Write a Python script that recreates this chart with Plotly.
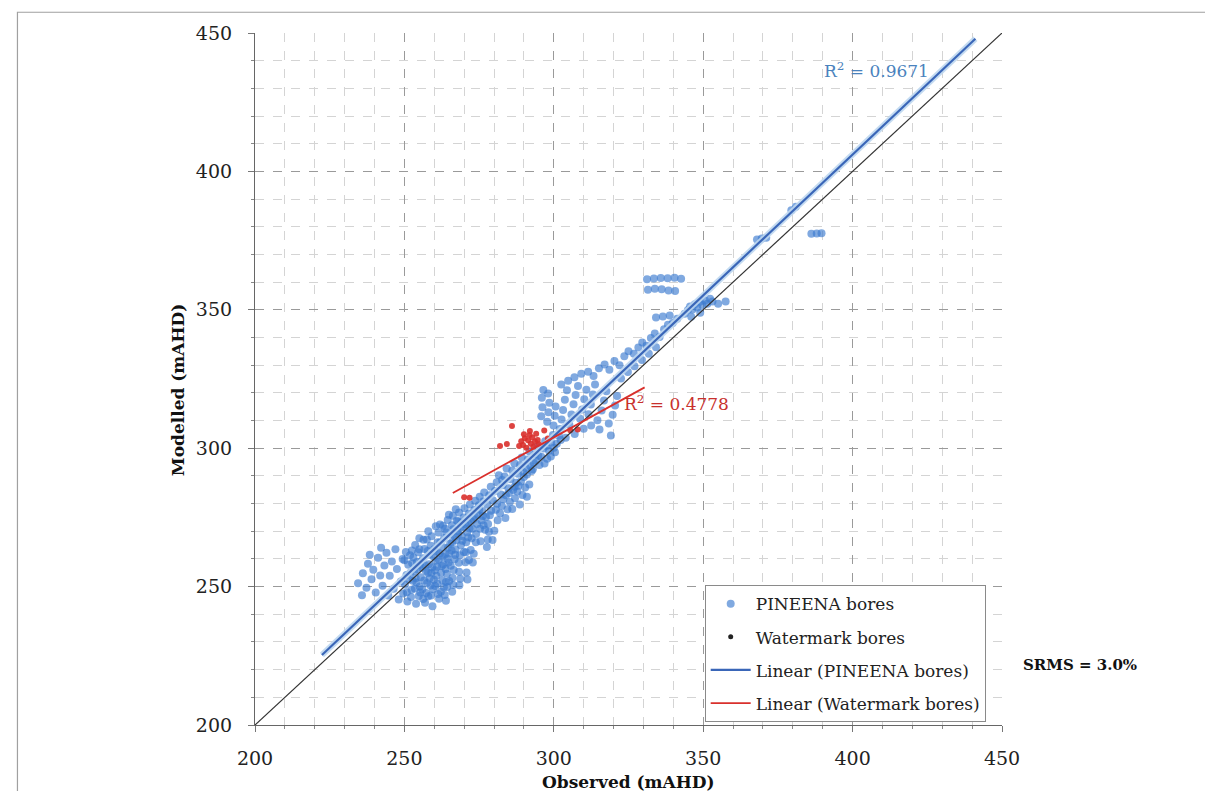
import plotly.graph_objects as go

# ---------------- data ----------------
pineena_points = [
    # diffuse points left of the main cluster
    (234.5,251.2),(236.1,254.8),(237.3,249.6),(237.8,258.3),(239.0,252.7),(239.6,256.1),(240.4,247.9),(241.2,260.4),
    (241.9,254.0),(242.7,250.3),(243.3,257.6),(244.0,262.2),(244.6,246.8),(245.1,253.9),(245.8,259.1),(246.4,249.2),
    (247.0,263.5),(247.5,256.4),(248.1,245.3),(248.8,251.8),(249.4,260.0),(235.8,246.9),(238.4,261.5),(242.2,264.0),
    # dense cluster
    (249.6,247.5),(250.2,250.8),(250.7,254.2),(251.3,257.9),(251.0,244.6),(251.9,261.3),(252.4,248.9),(252.8,252.1),(253.3,255.6),(253.6,265.0),
    (253.9,243.8),(254.2,258.9),(254.6,262.4),(254.8,246.6),(255.1,250.0),(255.5,253.4),(255.9,256.8),(256.2,260.2),(256.4,266.9),(256.7,263.6),
    (256.9,244.2),(257.3,247.7),(257.6,251.3),(257.9,254.9),(258.2,258.1),(258.5,261.5),(258.8,264.8),(259.1,268.2),(259.4,242.9),(259.6,249.0),
    (259.9,252.5),(260.2,255.9),(260.5,259.3),(260.8,262.7),(261.1,266.0),(261.4,269.5),(261.6,245.6),(261.9,272.4),(262.2,248.1),(262.5,257.4),
    (262.8,260.8),(263.0,264.2),(263.3,267.6),(263.6,270.9),(263.9,251.7),(264.2,254.6),(264.5,274.1),(264.8,258.7),(265.0,262.0),(265.3,265.5),
    (265.6,268.8),(265.9,272.2),(266.2,275.6),(266.5,256.0),(266.8,259.9),(267.1,263.4),(267.4,266.7),(267.7,270.1),(268.0,273.5),(268.3,276.8),
    (268.6,261.3),(268.9,264.9),(269.2,268.3),(269.5,271.6),(269.8,275.0),(270.1,278.3),(270.4,258.8),(270.7,266.0),(271.0,269.6),(271.3,273.0),
    (271.6,276.4),(271.9,279.7),(272.2,263.2),(272.5,267.5),(272.8,270.9),(273.1,274.3),(273.4,277.7),(273.7,281.0),(274.0,269.0),(274.3,272.6),
    (274.6,276.0),(274.9,279.4),(275.2,282.5),(275.5,266.4),(275.8,273.9),(276.1,277.3),(276.4,280.7),(276.7,284.0),(277.0,270.5),(277.3,275.1),
    (252.0,255.0),(254.0,251.5),(256.0,249.0),(258.0,246.5),(257.0,257.5),(259.0,255.0),(261.0,251.0),(263.0,258.0),(265.0,252.0),(262.0,266.0),
    (260.0,263.5),(264.0,269.5),(266.0,266.0),(268.0,269.0),(267.0,261.5),(269.0,273.0),(253.0,260.5),(255.0,263.5),(250.0,259.5),(257.5,267.0),
    (251.5,252.6),(253.5,249.3),(255.3,247.9),(256.6,252.2),(258.7,250.4),(260.7,253.9),(262.3,255.0),(261.5,259.8),(263.6,261.6),(264.6,264.0),
    (265.8,263.0),(266.9,268.0),(268.8,271.3),(270.3,272.5),(271.8,271.0),(273.5,275.2),(275.0,277.8),(276.2,275.5),(259.8,260.8),(257.8,262.9),
    (255.6,259.0),(254.4,256.2),(252.6,258.4),(262.9,272.0),(264.9,276.0),(267.2,277.9),(260.9,257.2),(258.9,246.8),(261.3,247.3),(264.3,249.9),
    (250.8,248.0),(252.2,246.2),(253.8,253.0),(255.0,257.8),(256.3,245.5),(257.2,255.6),(258.4,253.0),(259.3,257.0),(260.3,250.2),(261.8,262.0),
    (262.7,252.3),(263.8,256.4),(264.4,260.1),(265.5,257.5),(266.3,270.7),(267.5,273.8),(268.2,258.6),(269.4,266.6),(270.6,262.4),(271.4,267.8),
    (272.3,273.6),(273.9,266.0),(275.3,270.9),(276.5,272.2),(258.0,270.0),(255.0,267.5),(252.5,263.0),(250.5,262.5),(260.5,271.8),
    # streaks hanging below the line
    (263.2,249.8),(263.5,247.0),(263.9,244.9),(266.1,253.2),(266.4,250.6),(266.0,248.1),(268.3,255.4),(268.7,252.8),(268.4,250.5),(270.8,255.1),
    (271.1,252.6),(271.6,259.6),(273.2,261.9),(272.9,258.7),(269.9,262.5),
    (277.6,264.3),(277.9,267.0),(278.3,269.8),(278.0,272.6),(279.5,266.8),(280.1,270.2),(281.2,274.0),(282.0,276.5),(282.6,279.1),(283.8,274.8),
    (284.5,277.9),(285.3,280.6),(286.1,278.0),(287.0,281.9),(287.8,284.4),(288.6,279.7),(289.5,283.1),(290.4,285.8),(291.0,282.5),(291.8,286.9),
    # band along the line
    (277.8,279.6),(278.4,283.0),(278.9,286.1),(279.6,281.2),(280.3,284.5),(280.9,287.7),(281.6,290.2),(282.3,283.3),(282.9,286.6),(283.5,289.8),
    (284.2,292.7),(284.8,285.5),(285.5,288.8),(286.1,291.9),(286.8,294.6),(287.4,287.5),(288.0,290.8),(288.7,293.9),(289.3,296.6),(290.0,289.6),
    (290.6,292.9),(291.3,295.9),(291.9,298.8),(292.6,291.8),(293.2,294.7),(293.9,297.8),(294.5,300.6),(295.2,293.9),(295.8,296.9),(296.5,299.9),
    (297.1,302.5),(297.8,296.2),(298.4,299.1),(299.1,302.0),(299.7,304.8),(300.4,298.5),(301.0,301.6),(301.7,304.5),
    (279.0,277.4),(281.0,279.9),(283.1,281.6),(285.0,283.8),(286.9,286.1),(289.0,288.0),(291.0,290.5),(293.0,292.4),(294.8,297.3),(296.9,294.5),
    (299.0,297.0),(278.6,275.8),(280.6,277.8),(282.7,288.5),(284.0,283.0),(286.4,284.9),(288.2,286.4),(289.8,291.4),(292.1,293.6),(294.0,295.5),
    (297.5,300.8),(300.0,300.2),(302.3,303.0),
    # upper cluster
    (295.8,311.5),(296.2,314.8),(296.0,318.2),(296.5,321.0),(297.8,309.6),(298.2,313.0),(298.5,316.4),(298.1,319.8),(299.9,308.2),(300.3,311.7),
    (300.6,315.1),(302.0,306.9),(302.6,310.4),(303.1,313.8),(303.7,317.5),(304.4,320.9),(305.2,308.5),(305.9,312.2),(306.6,315.9),(307.3,319.2),
    (308.1,322.5),(308.8,310.6),(309.5,314.0),(310.2,317.7),(310.9,321.1),(311.6,312.3),(312.4,315.8),(313.1,319.4),(313.8,323.0),(314.6,310.1),
    (315.3,306.8),(316.0,313.6),(316.8,317.2),(317.6,320.6),(318.4,308.9),(319.1,304.6),(319.7,312.1),(320.5,315.4),(321.2,318.9),(304.0,303.8),
    (307.0,305.1),(310.0,307.0),(312.5,308.2),
    # streaks 300-342
    (302.5,323.0),(304.8,324.4),(306.9,325.6),(309.2,326.9),(311.5,327.6),(313.3,326.1),(315.1,328.9),(317.0,330.2),(318.6,328.3),(320.3,331.5),
    (322.0,330.0),(323.6,333.2),(325.0,335.0),(326.8,334.1),(328.3,336.4),(329.6,338.2),(331.0,337.0),(332.5,339.8),(333.8,341.4),(335.4,340.2),
    (336.9,343.0),(338.2,344.6),(339.8,345.2),(341.3,346.8),(322.5,325.2),(324.8,327.5),(327.0,329.6),(329.5,331.9),(331.8,334.1),(334.2,336.5),
    # cluster near 350
    (343.8,348.6),(344.9,349.9),(345.6,351.2),(346.4,350.1),(347.2,352.0),(348.0,350.8),(348.9,352.9),(349.7,351.7),(350.6,353.4),(351.4,352.2),
    (352.3,354.0),(353.1,353.0),(346.0,347.5),(349.0,348.9),
    (331.2,361.0),(333.5,361.3),(335.8,361.5),(338.1,361.4),(340.4,361.6),(342.6,361.2),(331.5,357.2),(333.8,357.6),(336.1,357.4),(338.4,357.0),
    (340.6,356.8),(334.2,347.2),(336.5,347.6),(338.8,347.9),
    # isolated points
    (355.0,352.2),(357.5,353.0),(368.0,375.4),(369.6,375.8),(371.1,376.0),(379.5,386.0),(381.0,387.2),(386.2,377.5),(388.0,377.6),(389.6,377.7),
]
watermark_points = [
    (288.4,300.8),(289.1,302.5),(289.7,301.2),(290.3,303.6),(290.8,300.2),(291.4,302.9),(291.9,304.8),(292.3,301.6),(292.8,303.9),(293.2,300.5),
    (293.7,302.4),(294.1,305.2),(294.6,303.0),(295.0,301.4),(290.0,305.0),(292.0,306.2),(282.0,300.8),(284.3,301.5),(286.0,308.0),(270.0,282.3),
    (271.8,282.1),(305.5,306.5),(308.0,306.8),(298.0,303.5),(296.8,306.4),
]
pineena_obs = [p[0] for p in pineena_points]
pineena_mod = [p[1] for p in pineena_points]
watermark_obs = [p[0] for p in watermark_points]
watermark_mod = [p[1] for p in watermark_points]

# linear fits (slope, intercept) and their x extents
pineena_fit = (1.018, -1.1)
pineena_fit_x = [222.4, 441.1]
watermark_fit = (0.595, 125.4)
watermark_fit_x = [266.2, 330.4]
one_to_one = [200, 450]

r2_pineena = "0.9671"
r2_watermark = "0.4778"
srms_text = "SRMS = 3.0%"
tick_vals = [200, 250, 300, 350, 400, 450]

# ---------------- figure ----------------
FONT = "DejaVu Serif"
BLUE = "#3c7bd0"
TREND_BLUE = "#3a66b8"
RED = "#d9302c"

fig = go.Figure()

fig.add_trace(go.Scatter(
    x=pineena_obs, y=pineena_mod, mode="markers", name="PINEENA bores",
    marker=dict(size=8, color=BLUE, opacity=0.65, line=dict(width=0)),
    legendgroup="a"))

fig.add_trace(go.Scatter(
    x=[None], y=[None], mode="markers", name="Watermark bores",
    marker=dict(size=5, color="#222222"), legendgroup="b"))
fig.add_trace(go.Scatter(
    x=watermark_obs, y=watermark_mod, mode="markers", name="Watermark bores",
    marker=dict(size=6, color=RED, opacity=0.9, line=dict(width=0)),
    legendgroup="b", showlegend=False))

fig.add_trace(go.Scatter(
    x=one_to_one, y=one_to_one, mode="lines", showlegend=False,
    line=dict(color="#333333", width=1.2), legendgroup="z"))

pb_y = [pineena_fit[0] * v + pineena_fit[1] for v in pineena_fit_x]
fig.add_trace(go.Scatter(
    x=pineena_fit_x, y=pb_y, mode="lines", showlegend=False,
    line=dict(color="rgba(190,215,240,0.9)", width=6), legendgroup="c"))
fig.add_trace(go.Scatter(
    x=pineena_fit_x, y=pb_y, mode="lines", name="Linear (PINEENA bores)",
    line=dict(color=TREND_BLUE, width=2.2), legendgroup="c"))

wm_y = [watermark_fit[0] * v + watermark_fit[1] for v in watermark_fit_x]
fig.add_trace(go.Scatter(
    x=watermark_fit_x, y=wm_y, mode="lines", name="Linear (Watermark bores)",
    line=dict(color=RED, width=1.8), legendgroup="d"))

axis_common = dict(
    range=[200, 450], tickvals=tick_vals, showgrid=True,
    gridcolor="#9a9a9a", griddash="dash", gridwidth=1,
    minor=dict(dtick=10, showgrid=True, gridcolor="#d4d4d4", griddash="dash",
               gridwidth=1, ticks="outside", ticklen=3, tickcolor="#888"),
    showline=True, linecolor="#666666", linewidth=1.2,
    ticks="outside", ticklen=6, tickcolor="#777777",
    tickfont=dict(family=FONT, size=19, color="#222222"),
    zeroline=False, fixedrange=True,
)

fig.update_layout(
    width=1205, height=783,
    margin=dict(l=247, r=211, t=25, b=66),
    paper_bgcolor="white", plot_bgcolor="white",
    xaxis=dict(**axis_common, ticklabelstandoff=10),
    yaxis=dict(**axis_common, ticklabelstandoff=12),
    showlegend=True,
    legend=dict(
        x=0.602, y=0.202, xanchor="left", yanchor="top",
        bgcolor="white", bordercolor="#8a8a8a", borderwidth=1,
        font=dict(family=FONT, size=17, color="#222222"),
        tracegroupgap=8, itemwidth=40, traceorder="grouped",
    ),
    annotations=[
        dict(text="R<sup>2</sup> = " + r2_pineena, x=408, y=436.5, xref="x", yref="y",
             xanchor="center", yanchor="middle", showarrow=False,
             font=dict(family=FONT, size=17, color="#4a82bd")),
        dict(text="R<sup>2</sup> = " + r2_watermark, x=341, y=316.2, xref="x", yref="y",
             xanchor="center", yanchor="middle", showarrow=False,
             font=dict(family=FONT, size=17, color="#c8302c")),
        dict(text="<b>" + srms_text + "</b>", x=1.104, y=0.0867, xref="paper", yref="paper",
             xanchor="center", yanchor="middle", showarrow=False,
             font=dict(family=FONT, size=15, color="#111111")),
        dict(text="<b>Modelled (mAHD)</b>", x=-0.103, y=0.484, xref="paper", yref="paper",
             xanchor="center", yanchor="middle", textangle=-90, showarrow=False,
             font=dict(family=FONT, size=17, color="#111111")),
        dict(text="<b>Observed (mAHD)</b>", x=0.5, y=-0.0824, xref="paper", yref="paper",
             xanchor="center", yanchor="middle", showarrow=False,
             font=dict(family=FONT, size=17, color="#111111")),
    ],
    shapes=[
        dict(type="rect", xref="paper", yref="paper", x0=-0.318, x1=1.32, y0=-0.25, y1=1.030,
             line=dict(color="#a0a0a0", width=1.2), fillcolor="rgba(0,0,0,0)", layer="below"),
    ],
)

fig.write_html("out.html")
